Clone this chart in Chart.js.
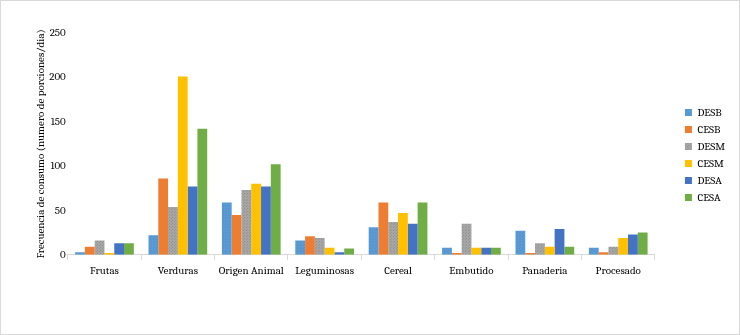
<!DOCTYPE html>
<html>
<head>
<meta charset="utf-8">
<script src="https://cdn.jsdelivr.net/npm/chart.js@4"></script>
<style>
	html, body { margin: 0; padding: 0; background: #fff; }
	.chartWrap { position: relative; width: 738px; height: 333px; border: 1px solid #d9d9d9; }
</style>
</head>
<body>
<div class="chartWrap"><canvas id="chart"></canvas></div>
<script>
// categories and series
const categories = ['Frutas', 'Verduras', 'Origen Animal', 'Leguminosas', 'Cereal', 'Embutido', 'Panaderia', 'Procesado'];
const desb = [3, 22, 59, 16, 31, 8, 27, 8];
const cesb = [9, 86, 45, 21, 59, 2, 2, 3];
const desm = [16, 54, 73, 19, 37, 35, 13, 9];
const cesm = [2, 201, 80, 8, 47, 8, 9, 19];
const desa = [13, 77, 77, 3, 35, 8, 29, 23];
const cesa = [13, 142, 102, 7, 59, 8, 9, 25];
const yTicks = [0, 50, 100, 150, 200, 250];

const serif = 'Cambria, "DejaVu Serif", serif';

// small dotted fill, like the textured series in the original
let makePattern = (base, dot) => {
	let c = document.createElement('canvas');
	c.width = 3;
	c.height = 3;
	let g = c.getContext('2d');
	g.fillStyle = base;
	g.fillRect(0, 0, 3, 3);
	g.fillStyle = dot;
	g.fillRect(0, 0, 1, 1);
	g.fillRect(2, 1, 1, 1);
	return g.createPattern(c, 'repeat');
};

let series = [
	{ label: 'DESB', data: desb, backgroundColor: makePattern('#5B9BD5', '#5391cb') },
	{ label: 'CESB', data: cesb, backgroundColor: '#ED7D31' },
	{ label: 'DESM', data: desm, backgroundColor: makePattern('#A5A5A5', '#959595') },
	{ label: 'CESM', data: cesm, backgroundColor: '#FFC000' },
	{ label: 'DESA', data: desa, backgroundColor: '#4472C4' },
	{ label: 'CESA', data: cesa, backgroundColor: '#70AD47' },
];

// push the legend a bit to the right of its layout box, leaving a gap after the plot
let legendShift = {
	id: 'legendShift',
	beforeDraw (chart) {
		let lg = chart.legend;
		if (!lg || lg._shifted) { return; }
		lg.left += 24;
		lg.right += 24;
		lg.top -= 2;
		lg.bottom -= 2;
		lg._shifted = true;
	},
	afterUpdate (chart) {
		if (chart.legend) { chart.legend._shifted = false; }
	},
};

new Chart(document.getElementById('chart'), {
	type: 'bar',
	data: {
		labels: categories,
		datasets: series.map(s => ({
			...s,
			borderWidth: 0,
			categoryPercentage: 0.8,
			barPercentage: 1.0,
		})),
	},
	options: {
		responsive: true,
		maintainAspectRatio: false,
		animation: false,
		layout: { padding: { top: 32, right: 28, bottom: 53, left: 33 } },
		plugins: {
			legend: {
				position: 'right',
				labels: {
					boxWidth: 7,
					boxHeight: 7,
					padding: 6,
					color: '#000',
					font: { family: serif, size: 11 },
				},
			},
			tooltip: { enabled: false },
		},
		scales: {
			x: {
				grid: {
					display: true,
					drawOnChartArea: false,
					drawTicks: true,
					tickLength: 5,
					color: '#d9d9d9',
					offset: true,
				},
				border: { display: true, color: '#d9d9d9' },
				ticks: {
					color: '#000',
					font: { family: serif, size: 11 },
					padding: 4,
				},
			},
			y: {
				min: 0,
				max: 250,
				afterBuildTicks: axis => { axis.ticks = yTicks.map(v => ({ value: v })); },
				grid: { display: false, drawTicks: false },
				border: { display: false },
				ticks: {
					color: '#000',
					font: { family: serif, size: 11 },
					padding: 2,
				},
				title: {
					display: true,
					text: 'Frecuencia de consumo (numero de porciones/dia)',
					color: '#000',
					font: { family: serif, size: 11 },
					padding: { top: 0, bottom: 0 },
				},
			},
		},
	},
	plugins: [legendShift],
});
</script>
</body>
</html>
